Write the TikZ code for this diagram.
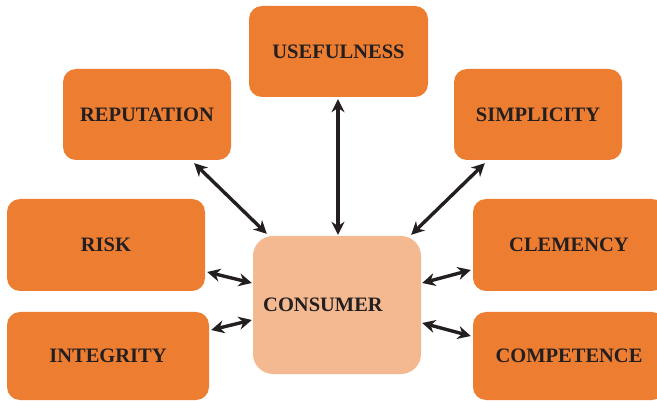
\documentclass[tikz,border=0pt]{standalone}
\usepackage{fontspec}
\setmainfont{Liberation Serif}
\usetikzlibrary{arrows.meta}
\definecolor{boxorange}{HTML}{ED7D31}
\definecolor{boxpeach}{HTML}{F4B990}
\definecolor{inkdark}{HTML}{231F20}
\begin{document}
\begin{tikzpicture}[x=1pt,y=-1pt,
  factor/.style={fill=boxorange, draw=none, rounded corners=13pt, inner sep=0pt,
    text=inkdark, font=\fontsize{20.5}{24}\selectfont\bfseries},
  centre/.style={fill=boxpeach, draw=none, rounded corners=20pt, inner sep=0pt},
  link/.style={draw=inkdark, line width=3.4pt, {Stealth[length=13pt,width=13pt]}-{Stealth[length=13pt,width=13pt]}}
]
\clip (0,0) rectangle (657,401);
\node[factor, minimum width=179pt, minimum height=91pt] (use) at (338.5,51.5) {USEFULNESS};
\node[factor, minimum width=168pt, minimum height=91pt] (rep) at (147,114.5) {REPUTATION};
\node[factor, minimum width=168pt, minimum height=91pt] (simp) at (538,114.5) {SIMPLICITY};
\node[factor, minimum width=198pt, minimum height=92pt] (risk) at (106,245) {RISK};
\node[factor, minimum width=202pt, minimum height=88pt] (integ) at (108,356) {INTEGRITY};
\node[factor, minimum width=192pt, minimum height=92pt] (clem) at (569,245) {CLEMENCY};
\node[factor, minimum width=192pt, minimum height=88pt] (comp) at (569,356) {COMPETENCE};
\node[centre, minimum width=168pt, minimum height=138pt] (cons) at (337,305) {};
\node[text=inkdark, font=\fontsize{20.5}{24}\selectfont\bfseries, inner sep=0pt] (consl) at (323,305) {CONSUMER};

\draw[link] ([shift={(-37,3)}]rep.south east) -- ([shift={(14,-2)}]cons.north west);
\draw[link] ([shift={(-0.5,2)}]use.south) -- ([shift={(1,-1)}]cons.north);
\draw[link] ([shift={(31,3)}]simp.south west) -- ([shift={(-10,-1)}]cons.north east);
\draw[link] ([shift={(2,27)}]risk.east) -- ([shift={(-1,-22)}]cons.west);
\draw[link] ([shift={(2,-26)}]integ.east) -- ([shift={(-1,15)}]cons.west);
\draw[link] ([shift={(1,-22)}]cons.east) -- ([shift={(-2,25)}]clem.west);
\draw[link] ([shift={(1,18)}]cons.east) -- ([shift={(-2,-20)}]comp.west);
\end{tikzpicture}
\end{document}
